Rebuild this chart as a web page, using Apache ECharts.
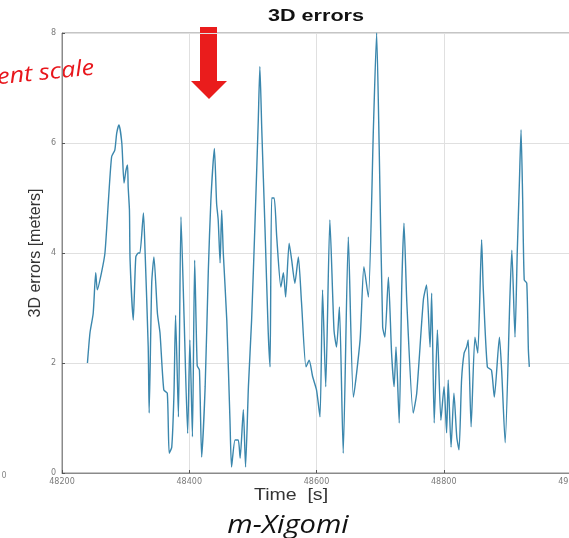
<!DOCTYPE html>
<html>
<head>
<meta charset="utf-8">
<title>3D errors</title>
<script src="https://cdn.jsdelivr.net/npm/echarts@6/dist/echarts.min.js"></script>
<style>
  html, body { margin: 0; padding: 0; background: #fff; }
  #chart { width: 569px; height: 538px; }
</style>
</head>
<body>
<div id="chart"></div>
<script>
// time stamps [s] and 3D errors [m]
const timeS = [
  48240, 48244, 48249, 48253, 48255.5, 48262, 48267.5, 48273, 48278, 48283,
  48286, 48289.5, 48294, 48297.5, 48300.5, 48303, 48304, 48306, 48307, 48312,
  48316, 48320, 48322.5, 48328, 48330.5, 48335.5, 48337, 48341, 48344.5, 48350,
  48354, 48360, 48365.5, 48368.5, 48372.5, 48376, 48378.5, 48383, 48387, 48392,
  48397.5, 48401, 48405, 48408.5, 48412.5, 48416, 48419.5, 48425, 48430, 48434,
  48439.5, 48443, 48445.5, 48448.5, 48451, 48453.5, 48459, 48464, 48466.5, 48472,
  48477, 48480, 48485, 48488.5, 48493, 48498, 48503.5, 48508.5, 48511, 48514,
  48519, 48524, 48527, 48529.5, 48533.5, 48537.5, 48544, 48548, 48551.5, 48557,
  48561, 48566, 48571.5, 48576.5, 48583.5, 48588.5, 48594, 48600, 48605.5, 48609.5,
  48614.5, 48621, 48627.5, 48631.5, 48636, 48642, 48650, 48658, 48668.5, 48674.5,
  48681.5, 48689.5, 48694.5, 48698.5, 48704, 48707.5, 48713, 48718, 48722, 48725,
  48730, 48734, 48737.5, 48742, 48752, 48757.5, 48768, 48773, 48778.5, 48781,
  48785, 48790, 48795.5, 48800.5, 48804.5, 48807, 48811.5, 48816, 48820.5, 48824,
  48828, 48832, 48836, 48838.5, 48843, 48849, 48853.5, 48859.5, 48862, 48868.5,
  48875, 48879.5, 48887.5, 48891, 48896.5, 48904, 48907, 48912, 48915.5, 48919,
  48921.5, 48924, 48926.5, 48930.5, 48933, 48934.5
];
const errM = [
  2.00, 2.55, 2.90, 3.64, 3.33, 3.64, 4.00, 4.96, 5.75, 5.87,
  6.18, 6.33, 6.00, 5.27, 5.50, 5.60, 5.20, 4.78, 3.87, 2.78,
  3.93, 4.00, 4.00, 4.73, 4.05, 2.29, 1.09, 3.45, 3.93, 2.90,
  2.55, 1.51, 1.45, 0.36, 0.47, 1.45, 2.87, 1.02, 4.66, 2.78,
  0.72, 2.42, 0.66, 3.87, 1.95, 1.87, 0.29, 1.57, 3.69, 4.96,
  5.90, 4.90, 4.60, 3.82, 4.78, 4.00, 2.78, 0.96, 0.11, 0.60,
  0.60, 0.27, 1.15, 0.11, 1.57, 2.78, 4.60, 6.42, 7.39, 6.24,
  4.47, 2.60, 1.93, 5.00, 5.00, 4.29, 3.38, 3.64, 3.20, 4.18,
  3.87, 3.45, 3.93, 3.09, 1.93, 2.05, 1.75, 1.51, 1.02, 3.33,
  1.57, 4.60, 2.60, 2.29, 3.02, 0.36, 4.29, 1.38, 2.42, 3.75,
  3.20, 6.29, 8.00, 5.93, 2.65, 2.47, 3.56, 2.18, 1.57, 2.29,
  0.91, 3.38, 4.54, 3.09, 1.09, 1.45, 3.15, 3.42, 2.29, 3.27,
  0.91, 2.60, 0.96, 1.57, 0.73, 1.69, 0.47, 1.45, 0.65, 0.42,
  1.69, 2.18, 2.29, 2.42, 0.84, 2.47, 2.18, 4.24, 3.38, 1.93,
  1.87, 1.38, 2.47, 1.87, 0.55, 3.20, 4.05, 2.47, 4.00, 5.33,
  6.24, 5.00, 3.51, 3.45, 2.24, 1.93
];
const xTicks = [48200, 48400, 48600, 48800, 49000];
const yTicks = [0, 2, 4, 6, 8];

const chart = echarts.init(document.getElementById('chart'));

chart.setOption({
  animation: false,
  backgroundColor: '#fff',
  grid: {
    left: 62,
    top: 33,
    right: -2,
    bottom: 65,
    containLabel: false,
    outerBoundsMode: 'none',
    show: true,
    borderColor: '#8a8a8a',
    borderWidth: 1
  },
  xAxis: {
    type: 'value',
    min: xTicks[0],
    max: xTicks[xTicks.length - 1],
    interval: 200,
    axisLine: { show: true, lineStyle: { color: '#8a8a8a' } },
    axisTick: { show: true, inside: true, length: 3, lineStyle: { color: '#555' } },
    axisLabel: {
      color: '#7a7a7a', fontSize: 8, margin: 5,
      fontFamily: 'DejaVu Sans',
      formatter: v => String(v)
    },
    splitLine: { show: true, lineStyle: { color: '#e0e0e0', width: 1 } }
  },
  yAxis: {
    type: 'value',
    min: yTicks[0],
    max: yTicks[yTicks.length - 1],
    interval: 2,
    axisLine: { show: true, lineStyle: { color: '#8a8a8a' } },
    axisTick: { show: true, inside: true, length: 3, lineStyle: { color: '#555' } },
    axisLabel: {
      color: '#7a7a7a', fontSize: 8, margin: 6,
      fontFamily: 'DejaVu Sans'
    },
    splitLine: { show: true, lineStyle: { color: '#e0e0e0', width: 1 } }
  },
  series: [{
    type: 'line',
    data: timeS.map((t, i) => [t, errM[i]]),
    showSymbol: false,
    smooth: 0.2,
    lineStyle: { color: '#3b87ad', width: 1.4 }
  }],
  graphic: [
    { // title
      type: 'text', x: 316, y: 17, scaleX: 1.35,
      style: {
        text: '3D errors', font: 'bold 16px "Liberation Sans", Arial, sans-serif',
        fill: '#111', textAlign: 'center', textVerticalAlign: 'middle'
      }
    },
    { // y axis name
      type: 'text', x: 36, y: 253, rotation: Math.PI / 2,
      style: {
        text: '3D errors [meters]', font: '16px "Liberation Sans", Arial, sans-serif',
        fill: '#333', textAlign: 'center', textVerticalAlign: 'middle'
      }
    },
    { // x axis name
      type: 'text', x: 291, y: 496, scaleX: 1.22,
      style: {
        text: 'Time  [s]', font: '16px "Liberation Sans", Arial, sans-serif',
        fill: '#333', textAlign: 'center', textVerticalAlign: 'middle'
      }
    },
    { // caption
      type: 'text', x: 288, y: 526, scaleX: 1.12,
      style: {
        text: 'm-Xigomi', font: 'italic 26px "Open Sans", "Liberation Sans", sans-serif',
        fill: '#111', textAlign: 'center', textVerticalAlign: 'middle'
      }
    },
    { // red annotation, cut at the left edge
      type: 'text', x: -3, y: 78, rotation: 0.1, scaleX: 1.15,
      style: {
        text: 'ent scale', font: 'italic 22px "Open Sans", "Liberation Sans", sans-serif',
        fill: '#e8161c', textAlign: 'left', textVerticalAlign: 'middle'
      }
    },
    { // red arrow
      type: 'polygon',
      shape: { points: [[200, 27], [217, 27], [217, 81], [227, 81], [209, 99], [191, 81], [200, 81]] },
      style: { fill: '#ea1c1c' }
    },
    { // stray zero from the neighbouring panel
      type: 'text', x: 4, y: 476,
      style: {
        text: '0', font: '8px "DejaVu Sans", sans-serif',
        fill: '#888', textAlign: 'center', textVerticalAlign: 'middle'
      }
    }
  ]
});
</script>
</body>
</html>
